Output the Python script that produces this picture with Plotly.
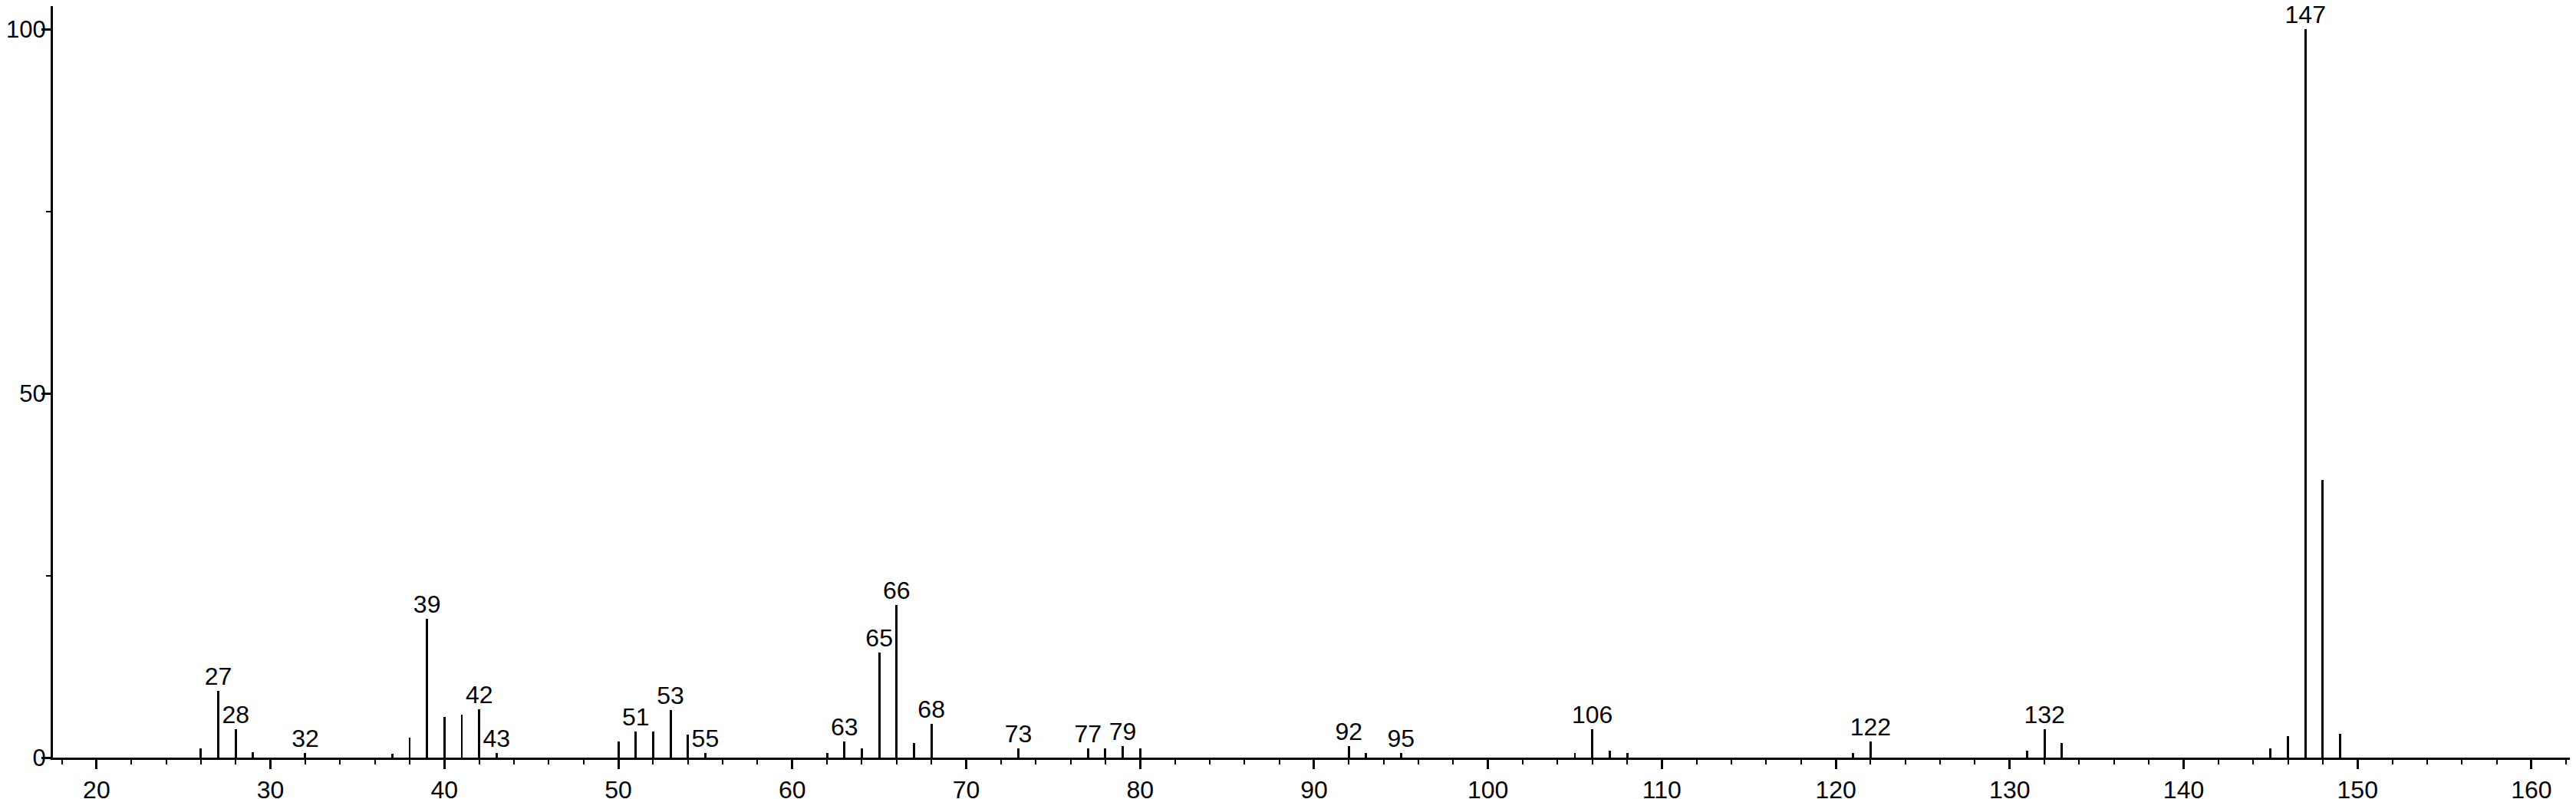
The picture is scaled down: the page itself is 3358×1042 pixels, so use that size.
import plotly.graph_objects as go

# m/z values and relative intensities
mz = [26, 27, 28, 29, 32, 37, 38, 39, 40, 41, 42, 43,
      50, 51, 52, 53, 54, 55, 62, 63, 64, 65, 66, 67, 68,
      73, 77, 78, 79, 80, 92, 93, 95, 105, 106, 107, 108,
      121, 122, 131, 132, 133, 145, 146, 147, 148, 149]
intensity = [1.3, 9.2, 3.9, 0.7, 0.6, 0.5, 2.7, 19.1, 5.6, 5.9, 6.6, 0.6,
             2.2, 3.6, 3.6, 6.5, 3.2, 0.6, 0.6, 2.2, 1.3, 14.4, 21.0, 2.0, 4.6,
             1.3, 1.3, 1.3, 1.6, 1.3, 1.6, 0.6, 0.6, 0.6, 3.9, 1.0, 0.6,
             0.6, 2.2, 1.0, 3.9, 2.0, 1.3, 3.0, 100.0, 38.1, 3.3]

# peaks that carry a label
labelled = [27, 28, 32, 39, 42, 43, 51, 53, 55, 63, 65, 66, 68,
            73, 77, 79, 92, 95, 106, 122, 132, 147]

x_ticks = list(range(20, 161, 10))
y_ticks = [0, 50, 100]

lookup = dict(zip(mz, intensity))
lab_y = [lookup[m] for m in labelled]

fig = go.Figure()
fig.add_trace(go.Bar(x=mz, y=intensity, width=0.13,
                     marker=dict(color='black', line=dict(width=0)),
                     showlegend=False, hoverinfo='x+y'))
fig.add_trace(go.Scatter(x=labelled, y=lab_y, mode='text',
                         text=[str(m) for m in labelled],
                         textposition='top center', cliponaxis=False,
                         textfont=dict(size=32, color='black'),
                         showlegend=False, hoverinfo='skip'))

# page body has an 8px default margin, so the figure is a bit smaller
fig.update_layout(
    width=3350, height=1034,
    paper_bgcolor='white', plot_bgcolor='white',
    font=dict(family='Liberation Sans, Arial, sans-serif', size=32, color='black'),
    margin=dict(l=61, r=0, t=0, b=54),
    bargap=0,
)
fig.update_xaxes(
    range=[17.49, 162.56], tickvals=x_ticks, ticktext=[str(v) for v in x_ticks],
    ticks='outside', ticklen=12, tickwidth=3, tickcolor='black',
    showline=True, linecolor='black', linewidth=3,
    showgrid=False, zeroline=False, automargin=False,
    minor=dict(dtick=2, tick0=0, ticks='outside', ticklen=6, tickwidth=2, tickcolor='black'),
)
fig.update_yaxes(
    range=[0, 103.16], tickvals=y_ticks, ticktext=[str(v) for v in y_ticks],
    ticks='outside', ticklen=12, tickwidth=3, tickcolor='black',
    ticklabelstandoff=-12, tickfont=dict(size=31),
    showline=True, linecolor='black', linewidth=3,
    showgrid=False, zeroline=False, automargin=False,
    minor=dict(dtick=25, tick0=0, ticks='outside', ticklen=6, tickwidth=2, tickcolor='black'),
)

fig.write_html("out.html")
